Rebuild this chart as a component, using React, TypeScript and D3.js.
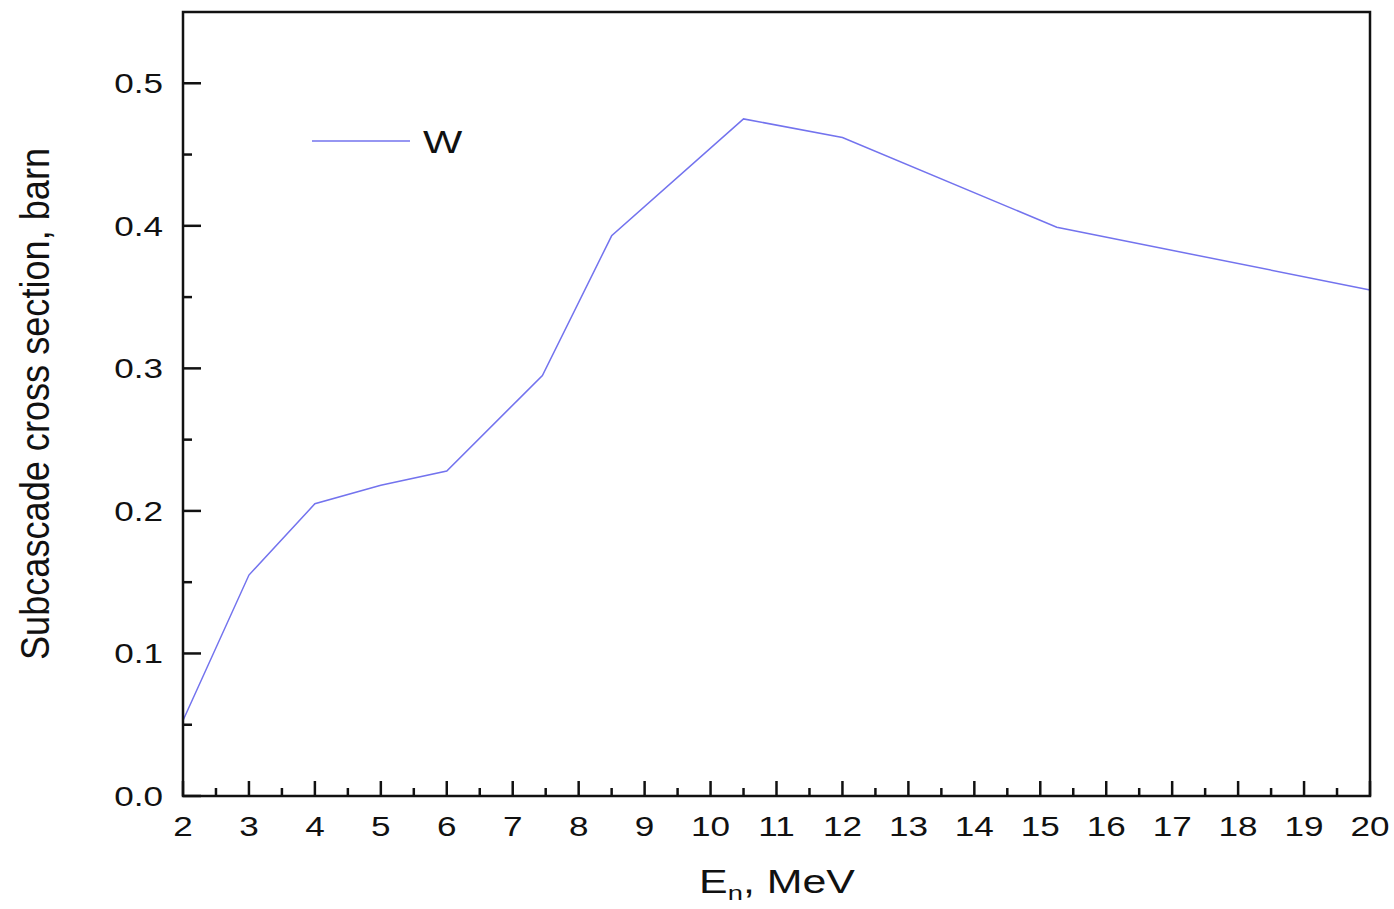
import * as d3 from 'd3'

// Subcascade cross section of W vs neutron energy
const ENERGY = [2, 3, 4, 5, 6, 7.45, 8.5, 10.5, 12, 15.25, 20]
const SIGMA = [0.053, 0.155, 0.205, 0.218, 0.228, 0.295, 0.393, 0.475, 0.462, 0.399, 0.355]
const X_TICKS = d3.range(2, 21, 1)
const X_MINOR = d3.range(2.5, 20, 1)
const Y_TICKS = [0, 0.1, 0.2, 0.3, 0.4, 0.5]
const Y_MINOR = [0.05, 0.15, 0.25, 0.35, 0.45]
const SERIES_NAME = 'W'

const W = 1394
const H = 909
const PLOT = { left: 183, right: 1370, top: 12, bottom: 796 }
const LINE_COLOR = '#7373ee'
const FONT = 'Liberation Sans, Arial, sans-serif'
// the original figure is stretched horizontally, text included
const SX = 1.3

export default function App() {
  const x = d3.scaleLinear([2, 20], [PLOT.left, PLOT.right])
  const y = d3.scaleLinear([0, 0.55], [PLOT.bottom, PLOT.top])

  const line = d3.line<number>()
    .x((_, i) => x(ENERGY[i]))
    .y(d => y(d))

  const fmt = d3.format('.1f')

  return (
    <div style={{ position: 'absolute', left: 0, top: 0 }}>
      <svg width={W} height={H} style={{ display: 'block', background: '#fff' }}>
        {/* data line */}
        <path d={line(SIGMA) ?? ''} fill="none" stroke={LINE_COLOR} strokeWidth={1.5} />

        {/* frame */}
        <rect x={PLOT.left} y={PLOT.top} width={PLOT.right - PLOT.left} height={PLOT.bottom - PLOT.top}
          fill="none" stroke="#111" strokeWidth={2.5} />

        {/* x ticks */}
        {X_TICKS.map(t => (
          <g key={`xt${t}`}>
            <line x1={x(t)} x2={x(t)} y1={PLOT.bottom} y2={PLOT.bottom - 15} stroke="#111" strokeWidth={2.5} />
            <text transform={`translate(${x(t)},836) scale(${SX},1)`} textAnchor="middle"
              fontFamily={FONT} fontSize={27} fill="#111">{t}</text>
          </g>
        ))}
        {X_MINOR.map(t => (
          <line key={`xm${t}`} x1={x(t)} x2={x(t)} y1={PLOT.bottom} y2={PLOT.bottom - 8} stroke="#111" strokeWidth={2.5} />
        ))}

        {/* y ticks */}
        {Y_TICKS.map(t => (
          <g key={`yt${t}`}>
            <line x1={PLOT.left} x2={PLOT.left + 18} y1={y(t)} y2={y(t)} stroke="#111" strokeWidth={2.5} />
            <text transform={`translate(163,${y(t) + 10}) scale(${SX},1)`} textAnchor="end"
              fontFamily={FONT} fontSize={27} fill="#111">{fmt(t)}</text>
          </g>
        ))}
        {Y_MINOR.map(t => (
          <line key={`ym${t}`} x1={PLOT.left} x2={PLOT.left + 9} y1={y(t)} y2={y(t)} stroke="#111" strokeWidth={2.5} />
        ))}

        {/* axis titles */}
        <text transform={`translate(777,893) scale(${SX},1)`} textAnchor="middle" fontFamily={FONT} fontSize={33} fill="#111">
          E<tspan fontSize={21} dy={7}>n</tspan><tspan dy={-7}>, MeV</tspan>
        </text>
        <text transform={`translate(49,${(148 + 660) / 2}) scale(${SX},1) rotate(-90)`} textAnchor="middle"
          fontFamily={FONT} fontSize={31} fill="#111" textLength={512} lengthAdjust="spacingAndGlyphs">
          Subcascade cross section, barn
        </text>

        {/* legend */}
        <line x1={312} x2={410} y1={141} y2={141} stroke={LINE_COLOR} strokeWidth={1.5} />
        <text transform={`translate(423,153) scale(${SX},1)`} fontFamily={FONT} fontSize={32} fill="#111">{SERIES_NAME}</text>
      </svg>
    </div>
  )
}
